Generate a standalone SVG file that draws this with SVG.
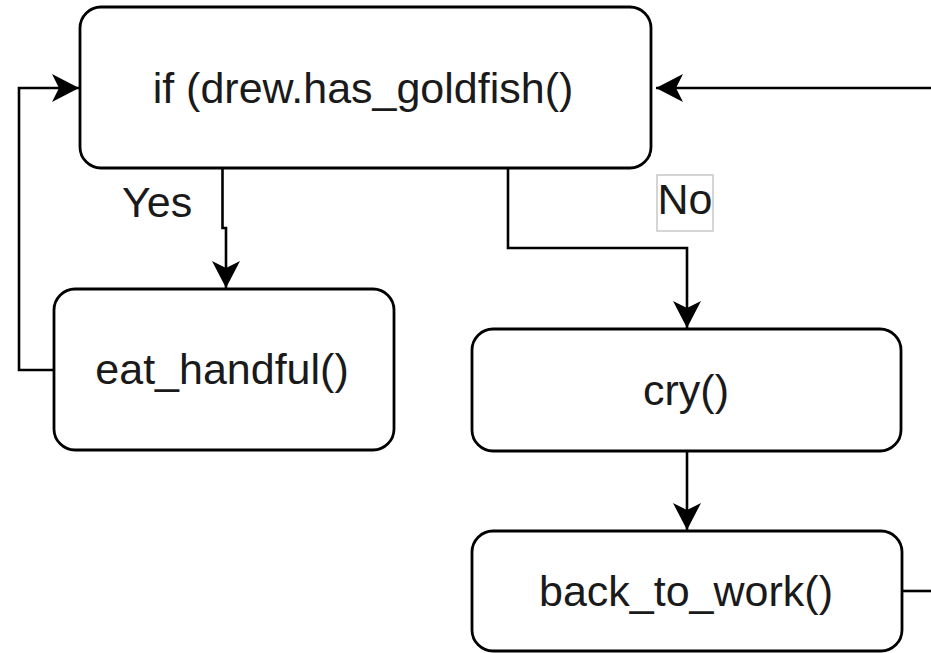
<svg xmlns="http://www.w3.org/2000/svg" width="931" height="653" viewBox="0 0 931 653">
  <style>
    .box { fill: #ffffff; stroke: #000000; stroke-width: 2.8; }
    .edge { fill: none; stroke: #000000; stroke-width: 2.6; }
    .txt { font-family: "Liberation Sans", Arial, Helvetica, sans-serif; font-size: 43px; fill: #1a1a1a; text-anchor: middle; }
    .lbl { font-family: "Liberation Sans", Arial, Helvetica, sans-serif; font-size: 43px; fill: #1a1a1a; }
  </style>
  <defs>
    <marker id="arrow" markerUnits="userSpaceOnUse" viewBox="-28 -16 30 32" markerWidth="30" markerHeight="32" refX="0" refY="0" orient="auto" overflow="visible">
      <path d="M0,0 L-27,-14 L-20,0 L-27,14 Z" fill="#000000"/>
    </marker>
  </defs>

  <!-- connectors -->
  <g id="edges">
    <path class="edge" d="M931,88 H656" marker-end="url(#arrow)"/>
    <path class="edge" d="M54,370 H19 V88 H79" marker-end="url(#arrow)"/>
    <path class="edge" d="M222.5,168 V228 H226 V288" marker-end="url(#arrow)"/>
    <path class="edge" d="M508,168 V248 H687 V328" marker-end="url(#arrow)"/>
    <path class="edge" d="M687,451 V530" marker-end="url(#arrow)"/>
    <path class="edge" d="M902,591 H931"/>
  </g>

  <!-- edge labels -->
  <g id="label-yes">
    <text class="lbl" x="122" y="217">Yes</text>
  </g>
  <g id="label-no">
    <rect x="657" y="175" width="56" height="56" fill="#ffffff" stroke="#c8c8c8" stroke-width="1.5"/>
    <text class="lbl" x="657.5" y="214">No</text>
  </g>

  <!-- nodes -->
  <g id="node-check">
    <rect class="box" x="80" y="7" width="571" height="161" rx="21" ry="21"/>
    <text class="txt" x="363" y="103">if (drew.has_goldfish()</text>
  </g>
  <g id="node-eat">
    <rect class="box" x="54" y="289" width="340" height="161" rx="21" ry="21"/>
    <text class="txt" x="222" y="384">eat_handful()</text>
  </g>
  <g id="node-cry">
    <rect class="box" x="472" y="329" width="429" height="122" rx="21" ry="21"/>
    <text class="txt" x="686" y="405">cry()</text>
  </g>
  <g id="node-back">
    <rect class="box" x="472" y="531" width="430" height="120" rx="21" ry="21"/>
    <text class="txt" x="686" y="606">back_to_work()</text>
  </g>
</svg>
